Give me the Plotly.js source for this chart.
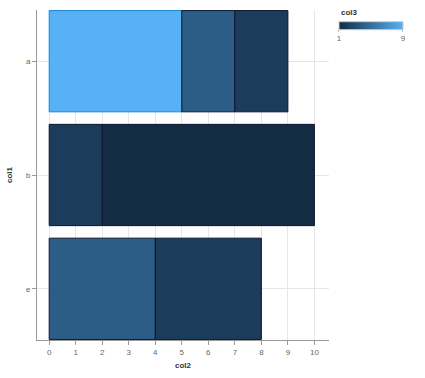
<!DOCTYPE html>
<html><head><meta charset="utf-8">
<script src="https://cdn.plot.ly/plotly-3.0.1.min.js"></script>
<style>html,body{margin:0;padding:0;background:#fff}#c{width:425px;height:378px}</style>
</head><body><div id="c"></div>
<script>
const col1 = ['a','a','a','b','b','e','e'];
const col2 = [5,2,2,2,8,4,4];
const col3 = [9,4,2,2,1,4,2];
const categories = ['a','b','e'];
const xTicks = [0,1,2,3,4,5,6,7,8,9,10];

const lineColors = col3.map(v => v >= 8 ? '#1b86d2' : '#0d1630');

const trace = {
  type: 'bar', orientation: 'h',
  x: col2, y: col1,
  marker: {
    color: col3, cmin: 1, cmax: 9,
    colorscale: [[0,'#132B43'],[1,'#56B1F7']],
    line: {color: lineColors, width: 1},
    showscale: true,
    colorbar: {
      orientation: 'h', x: 1.034, xanchor: 'left', y: 0.93, yanchor: 'middle',
      len: 64, lenmode: 'pixels', thickness: 8, xpad: 0, ypad: 0,
      outlinecolor: '#cccccc', outlinewidth: 1,
      tickvals: [1,9], ticktext: ['1','9'], ticks: 'outside', ticklen: 2, tickcolor: '#bbb',
      tickfont: {family: 'Liberation Sans, Arial', size: 8, color: '#666'},
      title: {text: ''}
    }
  },
  hoverinfo: 'none'
};

const layout = {
  width: 425, height: 378,
  margin: {l: 37, r: 96, t: 10, b: 38, autoexpand: false},
  barmode: 'stack', bargap: 0.11,
  showlegend: false,
  paper_bgcolor: '#fff', plot_bgcolor: '#fff',
  font: {family: 'Liberation Sans, Arial', size: 8, color: '#666'},
  xaxis: {
    range: [-0.46, 10.55], tickvals: xTicks, ticks: 'outside', ticklen: 4, tickcolor: '#999',
    showgrid: true, gridcolor: '#e6e6e6', zeroline: false,
    showline: true, linecolor: '#999', linewidth: 1,
    tickfont: {size: 8, color: '#666'},
    title: {text: '<b>col2</b>', font: {size: 8, color: '#333'}, standoff: 6}
  },
  yaxis: {
    categoryorder: 'array', categoryarray: categories, autorange: false,
    range: [2.45, -0.45], ticks: 'outside', ticklen: 4, tickcolor: '#999',
    showgrid: true, gridcolor: '#e6e6e6', zeroline: false,
    showline: true, linecolor: '#999', linewidth: 1,
    tickfont: {size: 8, color: '#666'},
    title: {text: '<b>col1</b>', font: {size: 8, color: '#333'}, standoff: 12}
  },
  annotations: [{
    text: '<b>col3</b>', xref: 'paper', yref: 'paper', x: 1.034, y: 0.973,
    xanchor: 'left', yanchor: 'bottom', showarrow: false,
    font: {size: 8, color: '#333'}
  }]
};

Plotly.newPlot('c', [trace], layout, {displayModeBar: false, staticPlot: true});
</script></body></html>
